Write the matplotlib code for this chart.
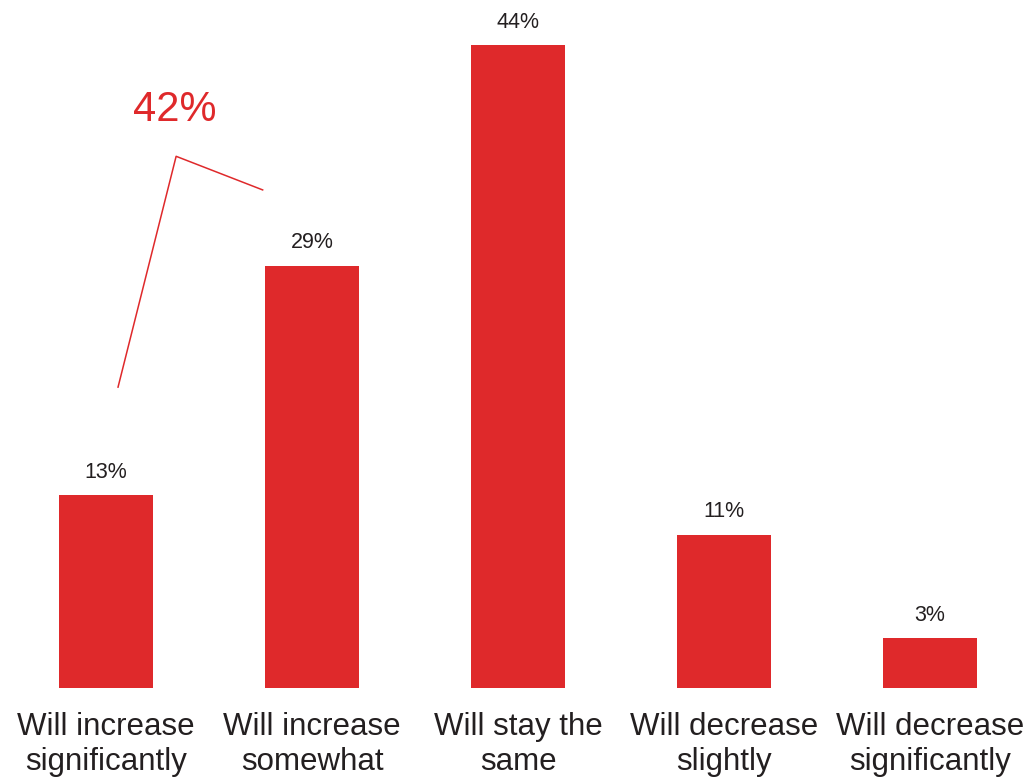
import matplotlib.pyplot as plt
import numpy as np

plt.rcParams['font.family'] = ['Liberation Sans', 'DejaVu Sans']

# data
categories = ["Will increase\nsignificantly", "Will increase\nsomewhat", "Will stay the\nsame",
              "Will decrease\nslightly", "Will decrease\nsignificantly"]
values = [13.2, 28.9, 44, 10.5, 3.4]
labels = ["13%", "29%", "44%", "11%", "3%"]
combined_label = "42%"

red = "#DF292B"
dark = "#231F20"

fig = plt.figure(figsize=(10.3, 7.81), dpi=100)
ax = fig.add_axes([0.003, 0.119, 1.0, 0.881])

x = np.arange(len(values))
ax.bar(x, values, width=0.455, color=red)

for xi, v, lab in zip(x, values, labels):
    ax.text(xi, v + 0.85, lab, ha="center", va="bottom", fontsize=15.5, color=dark)

# bracket for the two "increase" bars
ax.plot([0.058, 0.34, 0.76], [20.6, 36.4, 34.1], color=red, lw=1.1)
ax.text(0.335, 39.6, combined_label, ha="center", va="center", fontsize=30, color=red)

ax.set_xlim(-0.5, 4.5)
ax.set_ylim(0, 47.1)
ax.set_xticks(x)
ax.set_xticklabels(categories, fontsize=22.5, color=dark, linespacing=1.25)
ax.tick_params(axis="x", length=0, pad=17)
ax.set_yticks([])
for s in ax.spines.values():
    s.set_visible(False)

fig.savefig("out.png", dpi=100)
